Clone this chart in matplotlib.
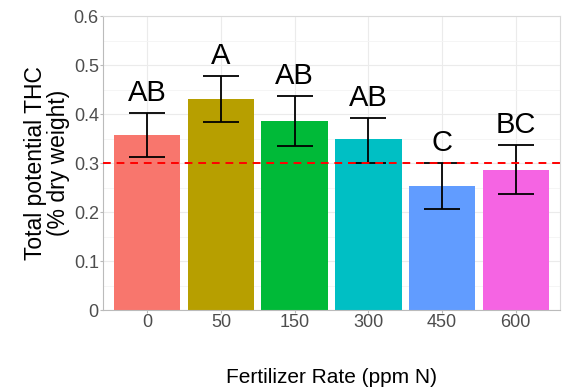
import matplotlib
matplotlib.use("Agg")
import matplotlib.pyplot as plt
from matplotlib.ticker import MultipleLocator

categories = ["0", "50", "150", "300", "450", "600"]
means = [0.357, 0.431, 0.386, 0.349, 0.253, 0.286]
upper = [0.402, 0.478, 0.437, 0.392, 0.300, 0.337]
lower = [0.312, 0.384, 0.335, 0.300, 0.206, 0.237]
letters = ["AB", "A", "AB", "AB", "C", "BC"]
colors = ["#F8766D", "#B79F00", "#00BA38", "#00BFC4", "#619CFF", "#F564E3"]
threshold = 0.3

plt.rcParams['font.family'] = ['Liberation Sans', 'DejaVu Sans']

fig = plt.figure(figsize=(5.72, 3.91), dpi=100)
ax = fig.add_axes([0.180, 0.207, 0.799, 0.752])

x = list(range(1, len(categories) + 1))
ax.bar(x, means, width=0.9, color=colors, zorder=2)
yerr = [[m - l for m, l in zip(means, lower)], [u - m for u, m in zip(upper, means)]]
ax.errorbar(x, means, yerr=yerr, fmt='none', ecolor='black', elinewidth=1.3,
            capsize=13, capthick=1.3, zorder=3)
ax.axhline(threshold, color='#FF0000', linestyle=(0, (4, 3)), linewidth=1.4, zorder=4)
for xi, u, t in zip(x, upper, letters):
    ax.text(xi, u + 0.012, t, ha='center', va='bottom', fontsize=21, color='black', zorder=5)

ax.set_xlim(0.4, 6.6)
ax.set_ylim(0, 0.6)
ax.set_xticks(x)
ax.set_xticklabels(categories)
ax.yaxis.set_minor_locator(MultipleLocator(0.05))
ax.set_yticks([0, 0.1, 0.2, 0.3, 0.4, 0.5, 0.6])
ax.set_yticklabels(["0", "0.1", "0.2", "0.3", "0.4", "0.5", "0.6"])
ax.grid(which='major', color='#EBEBEB', linewidth=0.8, zorder=0)
ax.grid(which='minor', axis='y', color='#F4F4F4', linewidth=0.6, zorder=0)
ax.set_axisbelow(True)
for s in ax.spines.values():
    s.set_color('#D9D9D9')
    s.set_linewidth(0.8)
ax.spines['left'].set_color('#BBBBBB')
ax.spines['bottom'].set_color('#BBBBBB')
ax.tick_params(axis='both', which='major', labelsize=13, labelcolor='#4D4D4D',
               color='#BBBBBB', length=2, pad=1)
ax.tick_params(axis='y', which='minor', length=0)
ax.set_xlabel("Fertilizer Rate (ppm N)", fontsize=15, color='black', labelpad=26.5)
ax.set_ylabel("Total potential THC\n(% dry weight)", fontsize=16.5, color='black',
              labelpad=3, linespacing=0.95)

fig.savefig("out.png", dpi=100)
